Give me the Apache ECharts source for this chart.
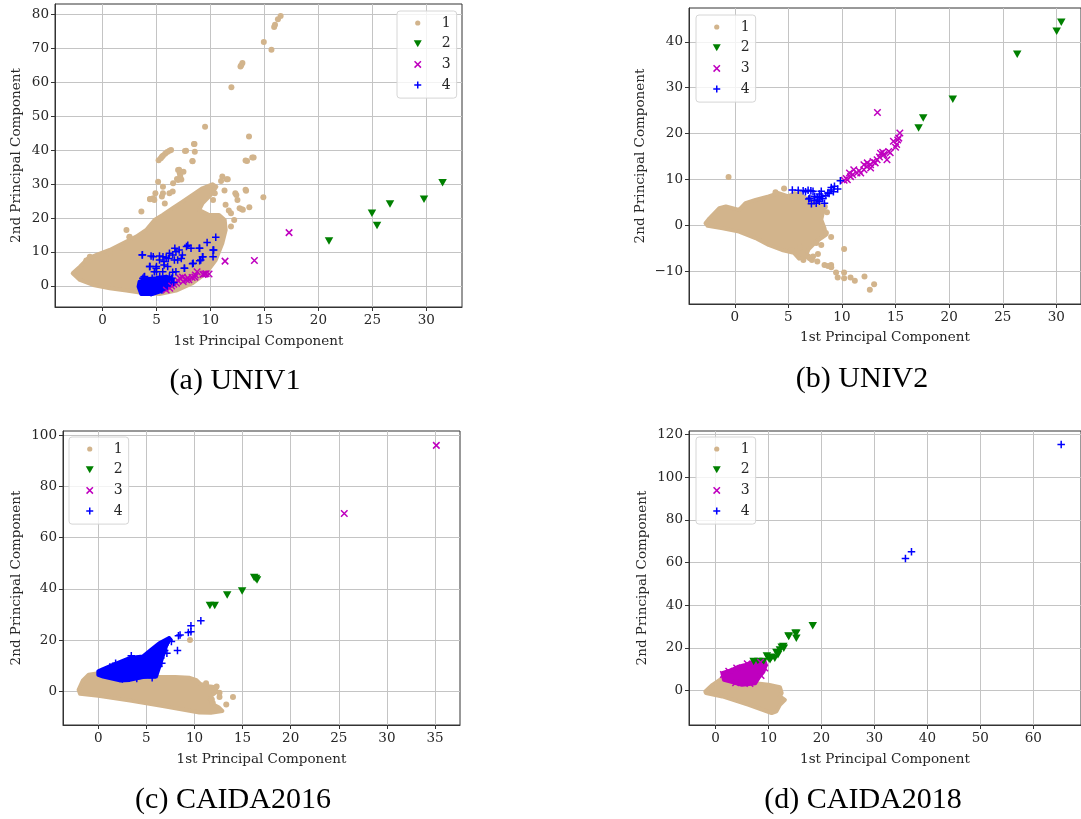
<!DOCTYPE html>
<html>
<head>
<meta charset="utf-8">
<title>Principal component clusters</title>
<script src="https://cdn.jsdelivr.net/npm/echarts@6/dist/echarts.min.js"></script>
<style>
  html, body { margin: 0; padding: 0; background: #fff; }
  #chart { width: 1081px; height: 819px; }
</style>
</head>
<body>
<div id="chart"></div>
<script>
// ---- labels / ticks ----
var classNames = ['1', '2', '3', '4'];
var captions = ['(a) UNIV1', '(b) UNIV2', '(c) CAIDA2016', '(d) CAIDA2018'];
var xName = '1st Principal Component';
var yName = '2nd Principal Component';

var univ1XTicks = [0, 5, 10, 15, 20, 25, 30];
var univ1YTicks = [0, 10, 20, 30, 40, 50, 60, 70, 80];
var univ2XTicks = [0, 5, 10, 15, 20, 25, 30];
var univ2YTicks = [-10, 0, 10, 20, 30, 40];
var caida16XTicks = [0, 5, 10, 15, 20, 25, 30, 35];
var caida16YTicks = [0, 20, 40, 60, 80, 100];
var caida18XTicks = [0, 10, 20, 30, 40, 50, 60];
var caida18YTicks = [0, 20, 40, 60, 80, 100, 120];

// ---- UNIV1 ----
// dense area of class 1, outline
var univ1Blob1 = [[-2.76,3.73],[-2.09,5.69],[-1.32,8.15],[-0.55,9.13],[0.67,10.6],[1.9,12.56],
  [3.13,14.52],[4.05,16.49],[4.82,19.43],[5.58,20.9],[6.5,22.87],[7.42,24.83],[8.34,26.79],
  [9.26,28.75],[10.18,29.93],[10.55,29.24],[10.03,26.79],[9.26,24.34],[8.96,22.37],[9.88,20.9],
  [10.8,20.9],[11.32,19.43],[11.41,16.49],[11.1,12.56],[10.49,7.65],[9.57,3.73],[8.34,0.79],
  [6.81,-1.37],[5.28,-2.36],[3.44,-1.96],[2.21,-1.37],[0.67,-0.69],[-0.86,0.29],[-2.09,1.77]];
var univ1Pts1 = [[16.5,79.5],[16.25,78.5],[15.98,76.9],[15.9,76.2],[14.94,71.8],[15.65,69.5],
  [12.78,64.6],[12.96,65.6],[12.85,65.0],[11.94,58.5],[9.5,46.9],[13.57,44.0],[14.0,37.8],
  [13.39,36.8],[8.52,41.8],[8.55,39.5],[7.74,39.8],[8.33,36.8],[5.2,37.0],[5.4,37.6],[5.6,38.3],
  [5.8,38.9],[6.0,39.4],[6.2,39.8],[6.35,40.0],[5.5,38.0],[6.9,31.5],[7.0,34.1],[7.16,33.2],
  [7.3,31.3],[7.5,33.6],[7.2,32.4],[6.54,30.2],[5.15,30.7],[5.6,29.2],[5.5,26.3],[6.2,27.3],
  [4.9,27.3],[4.7,25.8],[4.4,25.6],[5.77,24.3],[3.6,21.9],[2.22,16.5],[2.5,14.3],[1.8,11.4],
  [0.68,9.6],[-1.17,8.6],[-1.5,7.5],[10.98,30.9],[11.6,31.4],[11.3,28.1],[12.4,26.8],[13.3,28.0],
  [13.6,23.2],[12.7,22.9],[13.0,22.4],[14.9,26.1],[11.4,23.9],[11.9,21.4],[12.2,19.4],[10.24,25.3],
  [10.4,27.3],[11.1,32.2],[11.5,31.4],[12.3,27.3],[12.5,25.3],[12.9,22.6],[11.7,22.2],[11.9,17.5],
  [13.25,28.3],[7.64,39.7],[8.47,41.8],[8.34,36.7],[13.25,36.9],[13.87,37.8],[7.1,34.2],[7.0,31.2],
  [6.5,27.8],[5.6,27.3],[4.4,25.5],[4.8,25.3],[2.5,14.5]];
var univ1Pts2 = [[20.98,13.2],[24.96,21.4],[25.43,17.8],[26.63,24.1],[29.78,25.5],[31.5,30.4]];
var univ1Pts3 = [[17.28,15.7],[11.35,7.3],[14.07,7.5],[8.76,4.2],[9.47,3.5],[9.87,3.5],[8.55,2.6],
  [7.78,1.8],[7.16,2.3],[6.85,0.8],[6.23,-0.7],[5.9,-1.2],[7.47,1.3],[6.6,0.5],[7.0,1.5],[7.9,2.4],
  [8.3,2.5],[9.3,3.4],[6.4,0.0],[8.0,1.8],[7.4,2.6],[9.6,3.6],[8.6,3.2]];
var univ1Blob4 = [[3.34,-0.2],[3.44,1.3],[4.05,1.96],[4.97,2.26],[5.89,2.75],[6.5,1.96],[6.35,0.29],
  [5.89,-0.69],[5.28,-1.67],[4.66,-2.36],[3.59,-2.36]];
var univ1Pts4 = [[3.7,9.2],[10.49,14.3],[9.69,12.8],[10.24,10.6],[10.24,8.6],[9.0,11.1],[8.4,6.7],
  [7.6,5.2],[7.78,11.6],[7.9,12.0],[6.7,11.1],[6.2,9.6],[4.7,8.6],[5.6,8.6],[6.1,8.1],[7.3,8.1],
  [5.0,5.7],[4.4,5.7],[3.85,2.6],[4.6,2.3],[6.4,2.3],[5.3,2.8],[5.9,1.3],[6.5,4.0],[9.0,7.4],
  [9.3,8.6],[5.0,4.2],[3.68,9.1],[4.5,8.8],[5.28,8.8],[5.9,8.4],[6.5,9.1],[6.8,10.1],[8.2,11.1],
  [8.96,11.1],[10.3,10.6],[9.26,8.6],[9.1,7.65],[8.34,6.5],[7.58,5.2],[6.8,4.2],[6.04,5.7],
  [5.7,6.2],[4.36,5.7],[4.97,5.2],[3.9,2.75],[3.74,2.3],[5.7,7.2],[6.66,7.65],[7.1,10.6],[7.4,9.1],
  [6.96,7.65],[5.28,7.65],[4.8,4.2],[5.58,4.2],[6.2,2.75],[4.2,0.5],[5.0,1.0],[6.0,0.0],[6.6,1.0],
  [3.8,-1.5],[4.5,-2.0],[5.5,-1.2]];

// ---- UNIV2 ----
var univ2Blob1 = [[-2.73,0.44],[-2.36,1.5],[-1.44,3.7],[-0.83,4.1],[0.4,3.35],[1.0,4.8],[1.93,5.5],
  [3.16,6.3],[4.08,7.0],[5.0,6.3],[5.6,7.0],[6.2,6.6],[6.84,5.5],[7.76,4.8],[8.37,4.1],[8.2,2.6],
  [8.07,1.2],[8.37,-0.66],[8.5,-2.1],[8.07,-2.8],[7.45,-3.9],[6.9,-5.2],[6.6,-6.8],[6.0,-7.3],
  [5.5,-6.0],[4.4,-5.4],[3.16,-4.3],[1.93,-2.8],[0.4,-1.4],[-1.13,-0.66],[-2.52,-0.15]];
var univ2Pts1 = [[-0.58,10.5],[8.99,-2.6],[10.2,-5.2],[7.6,-3.9],[7.76,-6.3],[8.07,-4.3],[8.37,-8.7],
  [8.99,-8.7],[9.45,-10.3],[10.2,-10.3],[9.6,-11.4],[10.2,-11.6],[10.8,-11.4],[11.2,-12.1],
  [12.1,-11.2],[13.0,-12.9],[12.6,-14.1],[6.84,-6.85],[7.3,-6.85],[8.5,-1.7],[6.7,-6.8],[7.0,-7.2],
  [6.4,-7.6],[7.7,-7.9],[6.1,-4.7],[5.3,-5.4],[8.7,-8.9],[9.0,-9.2],[7.2,-7.6],[6.3,-6.2],
  [8.6,2.8],[8.4,4.0],[7.0,5.9],[6.0,6.8],[4.6,8.0],[3.8,7.2]];
var univ2Pts2 = [[30.46,44.3],[30.03,42.3],[26.35,37.3],[20.34,27.5],[17.58,23.4],[17.15,21.2]];
var univ2Pts3 = [[13.31,24.6],[10.2,9.8],[10.8,10.6],[11.4,11.4],[12.05,12.1],[12.67,13.2],
  [13.28,14.3],[13.9,15.4],[14.36,16.1],[14.8,18.3],[15.3,19.0],[15.4,20.1],[15.1,17.6],[14.2,14.3],
  [13.6,15.7],[12.36,13.6],[11.75,11.4],[10.7,11.4],[11.1,12.1],[10.5,9.9],[12.67,12.5],[13.1,13.6],
  [12.05,13.2],[10.4,10.2],[11.0,11.0],[11.6,11.9],[12.3,12.8],[12.9,13.9],[13.5,14.9],[13.8,15.9],
  [15.0,17.0],[15.2,18.6],[14.5,15.8]];
var univ2Pts4 = [[5.37,7.7],[5.92,7.6],[6.38,7.5],[6.84,7.6],[7.3,7.4],[7.0,5.9],[7.15,4.7],
  [7.76,5.5],[7.45,6.3],[8.07,6.3],[8.37,4.8],[8.68,7.0],[8.99,7.7],[9.3,8.5],[9.6,7.9],[9.85,9.7],
  [8.07,7.4],[7.9,5.2],[7.6,4.8],[6.6,7.3],[7.1,7.5],[7.7,6.0],[8.2,5.8],[8.5,6.5],[9.0,8.2],
  [9.2,7.3],[7.4,5.4],[8.8,6.9],[7.9,6.8],[6.9,5.7]];

// ---- CAIDA2016 ----
var caida16Blob1 = [[-2.05,0.6],[-1.6,4.3],[-1.0,6.5],[0.0,7.1],[2.0,6.5],[4.0,6.0],[6.0,5.6],
  [8.0,5.6],[9.5,5.3],[10.2,4.4],[10.6,2.9],[11.5,2.0],[12.3,1.5],[12.2,-0.4],[11.8,-1.5],
  [11.6,-3.0],[11.9,-5.0],[12.5,-6.2],[12.9,-7.6],[11.7,-8.3],[10.5,-8.2],[6.7,-5.7],[3.3,-3.6],
  [0.0,-1.7],[-1.9,-0.9]];
var caida16Pts1 = [[9.53,20.1],[12.6,-2.2],[14.0,-2.2],[13.3,-5.1],[11.8,-3.2],[11.9,-4.5],
  [12.3,1.9],[11.2,3.2],[12.6,-0.5]];
var caida16Pts2 = [[16.39,44.1],[16.2,44.4],[16.5,43.5],[14.95,39.2],[13.4,37.6],[12.1,33.5],[11.6,33.5]];
var caida16Pts3 = [[35.14,96.0],[25.57,69.4]];
var caida16Blob4 = [[0.0,7.8],[0.34,8.4],[1.54,10.4],[3.26,13.0],[4.63,13.6],[5.49,16.2],[6.34,18.8],
  [7.37,20.8],[7.03,17.5],[6.68,13.6],[6.34,9.7],[6.0,5.8],[4.63,5.6],[3.26,4.5],[2.23,4.3],
  [0.51,5.8],[0.0,6.5]];
var caida16Pts4 = [[10.66,27.6],[9.63,25.6],[9.63,23.3],[9.36,23.0],[8.5,22.0],[8.33,21.7],[8.23,16.0],
  [7.37,20.1],[6.96,18.2],[7.13,14.9],[6.6,11.0],[6.27,9.7],[3.43,13.9],[1.8,11.0],[7.6,19.5],
  [6.9,16.0],[6.5,13.0],[5.9,8.5],[5.0,10.0],[2.8,11.5],[1.2,9.5],[0.4,7.0],[2.5,4.8],[4.0,5.0],
  [5.6,5.3],[4.4,12.0],[5.4,14.5],[6.0,12.2]];

// ---- CAIDA2018 ----
var caida18Blob1 = [[-1.92,-0.47],[-0.56,2.65],[1.3,5.8],[2.2,6.4],[5.0,3.0],[7.5,3.4],[10.0,2.65],
  [12.16,1.56],[12.5,-1.25],[12.16,-2.8],[13.1,-4.4],[12.16,-6.7],[11.5,-9.8],[10.6,-10.6],
  [6.27,-6.7],[1.3,-2.8],[-1.8,-1.25]];
var caida18Pts1 = [];
var caida18Pts2 = [[18.36,30.3],[15.26,26.8],[15.26,24.5],[13.83,25.3],[13.8,25.6],[15.1,26.8],
  [12.8,20.6],[12.16,19.0],[11.5,17.8],[11.8,16.7],[10.6,15.6],[10.0,15.1],[9.7,16.2],[11.2,15.1],
  [9.06,13.6],[8.1,13.6],[7.2,13.6],[10.3,14.4],[12.9,19.8],[12.5,20.3]];
var caida18Blob3 = [[1.3,8.1],[3.16,9.7],[4.4,11.2],[5.65,12.0],[7.5,13.6],[9.24,13.9],[9.5,12.0],
  [9.06,8.9],[8.1,5.8],[7.5,3.4],[5.0,2.7],[2.85,4.2],[1.6,5.0]];
var caida18Pts3 = [[1.5,7.5],[2.5,9.0],[4.0,10.5],[6.0,12.5],[8.5,13.2],[9.3,10.5],[8.6,7.0],
  [6.5,3.3],[3.8,3.6]];
var caida18Pts4 = [[65.26,115.4],[35.86,61.9],[37.0,65.1]];

// ---- styling ----
var TAN = '#d2b48c', GREEN = '#008000', MAGENTA = '#bf00bf', BLUE = '#0000ff';
var FONT = 'DejaVu Serif';
var X_PATH = 'path://M0,0L10,10M10,0L0,10';
var PLUS_PATH = 'path://M5,0L5,10M0,5L10,5';
// legend icons: the stray moveTo's keep a 10x10 box so each glyph keeps its own size
var LEG_DOT = 'path://M0,0M10,10M7.6,5A2.6,2.6,0,1,1,2.4,5A2.6,2.6,0,1,1,7.6,5Z';
var LEG_TRI = 'path://M0,0M10,10M1,1.5L9,1.5L5,8.5Z';
var LEG_X = 'path://M0,0M10,10M1.8,1.8L8.2,8.2M8.2,1.8L1.8,8.2';
var LEG_PLUS = 'path://M0,0M10,10M5,1.5L5,8.5M1.5,5L8.5,5';

var panels = [
  { grid: {left: 55, top: 4, width: 407, height: 303}, x: [-4.4, 33.3], y: [-6.2, 83.0],
    xTicks: univ1XTicks, yTicks: univ1YTicks, xGap: 27, yGap: 32, legend: {left: 397, top: 11},
    caption: {x: 235, y: 381},
    blob1: univ1Blob1, pts1: univ1Pts1, pts2: univ1Pts2, blob3: null, pts3: univ1Pts3,
    blob4: univ1Blob4, pts4: univ1Pts4 },
  { grid: {left: 689, top: 8, width: 398, height: 296}, x: [-4.27, 32.3], y: [-17.2, 47.4],
    xTicks: univ2XTicks, yTicks: univ2YTicks, xGap: 26, yGap: 42, legend: {left: 696, top: 15},
    caption: {x: 862, y: 379},
    blob1: univ2Blob1, pts1: univ2Pts1, pts2: univ2Pts2, blob3: null, pts3: univ2Pts3,
    blob4: null, pts4: univ2Pts4 },
  { grid: {left: 63, top: 431, width: 397, height: 294}, x: [-3.67, 37.6], y: [-13.1, 101.6],
    xTicks: caida16XTicks, yTicks: caida16YTicks, xGap: 27, yGap: 40, legend: {left: 69, top: 437},
    caption: {x: 233, y: 800},
    blob1: caida16Blob1, pts1: caida16Pts1, pts2: caida16Pts2, blob3: null, pts3: caida16Pts3,
    blob4: caida16Blob4, pts4: caida16Pts4 },
  { grid: {left: 689, top: 431, width: 398, height: 294}, x: [-5.0, 69.0], y: [-16.2, 121.7],
    xTicks: caida18XTicks, yTicks: caida18YTicks, xGap: 27, yGap: 40, legend: {left: 696, top: 437},
    caption: {x: 863, y: 800},
    blob1: caida18Blob1, pts1: caida18Pts1, pts2: caida18Pts2, blob3: caida18Blob3, pts3: caida18Pts3,
    blob4: null, pts4: caida18Pts4 }
];

function minusSign(v) {
  return String(v).replace('-', '\u2212');
}

function axisBase(i, range, ticks, name, gap) {
  return {
    type: 'value', gridIndex: i, min: range[0], max: range[1],
    name: name, nameLocation: 'middle', nameGap: gap,
    nameTextStyle: {fontFamily: FONT, fontSize: 13.5, color: '#262626'},
    axisLine: {show: true, onZero: false, lineStyle: {color: '#333', width: 1}},
    axisTick: {show: true, length: 4, customValues: ticks, lineStyle: {color: '#333'}},
    axisLabel: {customValues: ticks, fontFamily: FONT, fontSize: 13.5, color: '#262626',
                margin: 6, formatter: minusSign},
    splitLine: {show: true, lineStyle: {color: '#c4c4c4', width: 1}}
  };
}

function blobSeries(i, poly, color) {
  return {
    type: 'custom', name: 'area', xAxisIndex: i, yAxisIndex: i, clip: true, silent: true,
    data: poly, encode: {x: 0, y: 1},
    renderItem: function(params, api) {
      if(params.dataIndex !== 0) return null;
      var pts = poly.map(function(p) { return api.coord(p); });
      return {
        type: 'polygon', shape: {points: pts},
        style: {fill: color, stroke: color, lineWidth: 4, lineJoin: 'round'}
      };
    }
  };
}

var grids = [], xAxes = [], yAxes = [], series = [], legends = [], graphics = [];

panels.forEach(function(p, i) {
  grids.push({left: p.grid.left, top: p.grid.top, width: p.grid.width, height: p.grid.height,
              show: true, borderColor: '#333', borderWidth: 1});
  xAxes.push(axisBase(i, p.x, p.xTicks, xName, p.xGap));
  yAxes.push(axisBase(i, p.y, p.yTicks, yName, p.yGap));

  if(p.blob1) series.push(blobSeries(i, p.blob1, TAN));
  series.push({type: 'scatter', name: classNames[0], xAxisIndex: i, yAxisIndex: i, silent: true,
               data: p.pts1, symbol: 'circle', symbolSize: 6, itemStyle: {color: TAN, opacity: 1}});
  series.push({type: 'scatter', name: classNames[1], xAxisIndex: i, yAxisIndex: i, silent: true,
               data: p.pts2, symbol: 'triangle', symbolRotate: 180, symbolSize: [8.5, 7.5],
               itemStyle: {color: GREEN, opacity: 1}});
  if(p.blob3) series.push(blobSeries(i, p.blob3, MAGENTA));
  series.push({type: 'scatter', name: classNames[2], xAxisIndex: i, yAxisIndex: i, silent: true,
               data: p.pts3, symbol: X_PATH, symbolSize: 6.5,
               itemStyle: {color: MAGENTA, borderColor: MAGENTA, borderWidth: 1.5, opacity: 1}});
  if(p.blob4) series.push(blobSeries(i, p.blob4, BLUE));
  series.push({type: 'scatter', name: classNames[3], xAxisIndex: i, yAxisIndex: i, silent: true,
               data: p.pts4, symbol: PLUS_PATH, symbolSize: 7.5,
               itemStyle: {color: BLUE, borderColor: BLUE, borderWidth: 1.5, opacity: 1}});

  legends.push({
    left: p.legend.left, top: p.legend.top, orient: 'vertical',
    itemWidth: 10, itemHeight: 10, itemGap: 6.7,
    padding: [5, 6, 6, 15],
    backgroundColor: 'rgba(255,255,255,0.8)', borderColor: '#d6d6d6', borderWidth: 1, borderRadius: 3,
    textStyle: {fontFamily: FONT, fontSize: 14, color: '#262626', lineHeight: 14, padding: [0, 0, 0, 14]},
    selectedMode: false,
    data: [
      {name: classNames[0], icon: LEG_DOT, itemStyle: {color: TAN, borderWidth: 0}},
      {name: classNames[1], icon: LEG_TRI, itemStyle: {color: GREEN, borderWidth: 0}},
      {name: classNames[2], icon: LEG_X, itemStyle: {color: MAGENTA, borderColor: MAGENTA, borderWidth: 1.5}},
      {name: classNames[3], icon: LEG_PLUS, itemStyle: {color: BLUE, borderColor: BLUE, borderWidth: 1.5}}
    ]
  });

  graphics.push({
    type: 'text', x: p.caption.x, y: p.caption.y, silent: true,
    style: {text: captions[i], fill: '#000', font: '30px "Liberation Serif"',
            align: 'center', verticalAlign: 'middle'}
  });
});

var chart = echarts.init(document.getElementById('chart'));
chart.setOption({
  animation: false,
  backgroundColor: '#fff',
  grid: grids,
  xAxis: xAxes,
  yAxis: yAxes,
  legend: legends,
  graphic: graphics,
  series: series
});
</script>
</body>
</html>
